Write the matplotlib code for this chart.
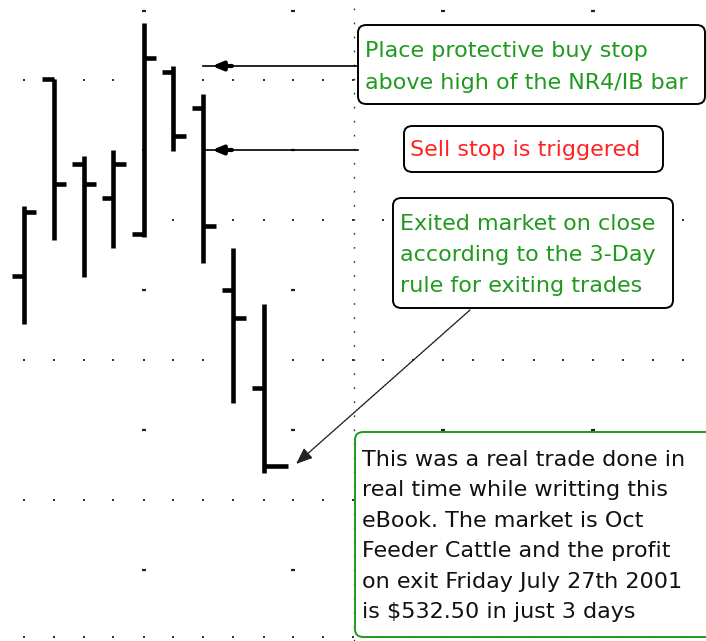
import matplotlib
matplotlib.use("Agg")
import matplotlib.pyplot as plt
from matplotlib.patches import FancyBboxPatch

# ---- data (OHLC bars, price units) ----
bar_idx = [0, 1, 2, 3, 4, 5, 6, 7, 8]
opens  = [92.10, 93.51, 92.90, 92.66, 92.40, 93.56, 93.30, 92.00, 91.30]
highs  = [92.60, 93.51, 92.96, 93.00, 93.91, 93.60, 93.40, 92.30, 91.90]
lows   = [91.76, 92.36, 92.09, 92.30, 92.38, 92.99, 92.19, 91.19, 90.69]
closes = [92.56, 92.76, 92.76, 92.90, 93.66, 93.10, 92.46, 91.80, 90.74]

note_buy = "Place protective buy stop\nabove high of the NR4/IB bar"
note_sell = "Sell stop is triggered"
note_exit = "Exited market on close\naccording to the 3-Day\nrule for exiting trades"
note_trade = ("This was a real trade done in\nreal time while writting this\n"
              "eBook. The market is Oct\nFeeder Cattle and the profit\n"
              "on exit Friday July 27th 2001\nis $532.50 in just 3 days")

W, H = 706, 641
fig = plt.figure(figsize=(W / 100, H / 100), dpi=100)
ax = fig.add_axes([0, 0, 1, 1])
ax.set_axis_off()

# pixel <-> data mapping helpers for layout
def px2x(px):
    return (px - 23.5) / 30.0

def px2y(py):
    return 90.0 + (570.0 - py) / 140.0

ax.set_xlim(px2x(0), px2x(W))
ax.set_ylim(px2y(H), px2y(0))

# ---- dotted grid ----
minor_cols = list(range(0, 23))
minor_rows = [89.52, 90.5, 91.5, 92.5, 93.5]
major_cols = [4, 9, 14, 19]
major_rows = [90.0, 91.0, 92.0, 93.0, 93.99]
gx = [c for r in minor_rows for c in minor_cols]
gy = [r for r in minor_rows for c in minor_cols]
ax.scatter(gx, gy, s=3, marker='s', color='#333333', lw=0, zorder=1)
mx = [c for r in major_rows for c in major_cols]
my = [r for r in major_rows for c in major_cols]
ax.scatter(mx, my, s=12, marker='_', color='#222222', lw=1.6, zorder=1)
ax.axvline(11.02, color='#333333', lw=1.0, linestyle=(0, (1.2, 8.9)), zorder=1)

# ---- OHLC bars ----
lw = 3.3
ax.vlines(bar_idx, lows, highs, color='black', lw=lw, capstyle='butt', zorder=3)
ax.hlines(opens, [i - 0.37 for i in bar_idx], bar_idx, color='black', lw=lw, zorder=3)
close_len = [0.42] * (len(bar_idx) - 1) + [0.82]
ax.hlines(closes, bar_idx, [i + l for i, l in zip(bar_idx, close_len)],
          color='black', lw=lw, zorder=3)

# ---- annotation boxes ----
def box(x0, y0, x1, y1, edge):
    p = FancyBboxPatch((x0 / W, 1 - y1 / H), (x1 - x0) / W, (y1 - y0) / H,
                       boxstyle="round,pad=0,rounding_size=0.012",
                       transform=ax.transAxes, fc='white', ec=edge, lw=1.4,
                       zorder=4, clip_on=False)
    ax.add_patch(p)

green = '#1f9a1f'
red = '#ff2222'
fs = 16

box(358, 25, 705, 104, 'black')
ax.text(365 / W, 1 - 67 / H, note_buy, transform=ax.transAxes, color=green,
        fontsize=fs, va='center', ha='left', linespacing=1.72, zorder=5)

box(404, 126, 663, 172, 'black')
ax.text(410 / W, 1 - 150 / H, note_sell, transform=ax.transAxes, color=red,
        fontsize=fs, va='center', ha='left', zorder=5)

box(393, 198, 673, 308, 'black')
ax.text(400 / W, 1 - 255 / H, note_exit, transform=ax.transAxes, color=green,
        fontsize=fs, va='center', ha='left', linespacing=1.7, zorder=5)

box(355, 432, 720, 637, green)
ax.text(362 / W, 1 - 536 / H, note_trade, transform=ax.transAxes, color='#111111',
        fontsize=fs, va='center', ha='left', linespacing=1.66, zorder=5)

# ---- arrows ----
for yp in (66, 150):
    yv = px2y(yp)
    ax.plot([px2x(203), px2x(358)], [yv, yv], color='black', lw=1.2, zorder=4)
    ax.annotate('', xy=(px2x(212), yv), xytext=(px2x(232), yv),
                arrowprops=dict(arrowstyle='-|>,head_length=0.6,head_width=0.25',
                                color='black', lw=3, shrinkA=0, shrinkB=0), zorder=4)

ax.annotate('', xy=(px2x(296), px2y(464)), xytext=(px2x(470), px2y(310)),
            arrowprops=dict(arrowstyle='-|>,head_length=1.0,head_width=0.4',
                            color='#222222', lw=1.0, linestyle=(0, (1.5, 0.8)),
                            shrinkA=0, shrinkB=0), zorder=4)

fig.savefig('out.png', dpi=100)
